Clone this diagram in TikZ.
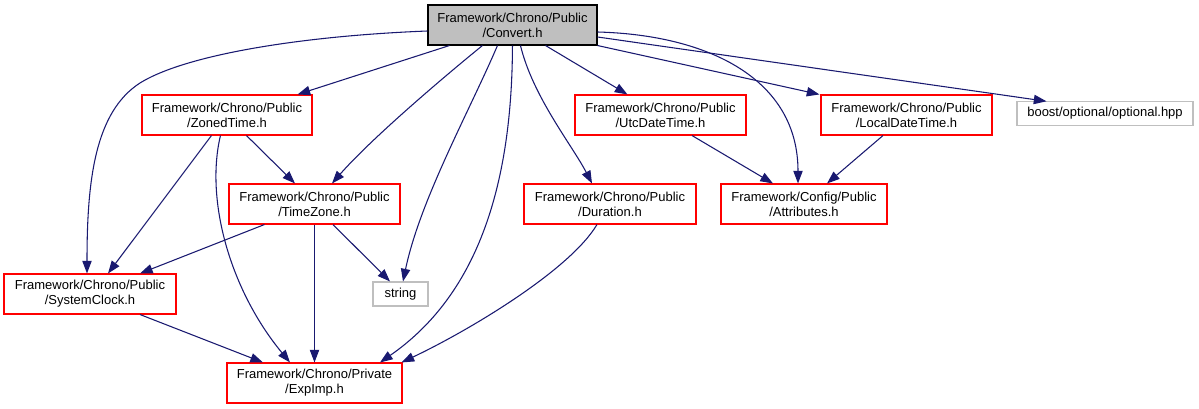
\documentclass[tikz,border=0pt]{standalone}
\usepackage{fontspec}
\setmainfont{Liberation Sans}
\usetikzlibrary{arrows.meta,calc}
\definecolor{edgeblue}{HTML}{191970}
\definecolor{boxred}{HTML}{FF0000}
\definecolor{lgray}{HTML}{BFBFBF}
\tikzset{
  filebox/.style={draw=boxred, line width=0.8pt, fill=white, align=center, inner sep=0pt,
    font=\fontsize{9.75}{11.25}\selectfont, minimum height=30pt},
  extbox/.style={filebox, draw=lgray, minimum height=17.5pt},
  rootbox/.style={filebox, draw=black, fill=lgray},
  dep/.style={draw=edgeblue, line width=0.8pt, -{Triangle[length=9.5pt,width=7pt]}, fill=none},
}
\begin{document}
\begin{tikzpicture}[x=0.75pt,y=-0.75pt]
\useasboundingbox (0,0) rectangle (1199,409);
% nodes
\node[rootbox, minimum width=126.75pt] (conv) at (512.5,25) {Framework/Chrono/Public\\/Convert.h};
\node[filebox, minimum width=127.5pt] (zoned) at (227,115) {Framework/Chrono/Public\\/ZonedTime.h};
\node[filebox, minimum width=128.25pt] (tz) at (314.5,204) {Framework/Chrono/Public\\/TimeZone.h};
\node[filebox, minimum width=129pt] (sys) at (90,294) {Framework/Chrono/Public\\/SystemClock.h};
\node[extbox, minimum width=41.25pt, minimum height=18pt] (str) at (400.5,294) {string};
\node[filebox, minimum width=131.25pt] (exp) at (314.5,383) {Framework/Chrono/Private\\/ExpImp.h};
\node[filebox, minimum width=128.25pt] (utc) at (660.5,115) {Framework/Chrono/Public\\/UtcDateTime.h};
\node[filebox, minimum width=128.25pt] (loc) at (906.5,115) {Framework/Chrono/Public\\/LocalDateTime.h};
\node[filebox, minimum width=129pt] (dur) at (610,204) {Framework/Chrono/Public\\/Duration.h};
\node[filebox, minimum width=124.5pt] (attr) at (804,204) {Framework/Config/Public\\/Attributes.h};
\node[extbox, minimum width=132pt] (boost) at (1105,113.5) {boost/optional/optional.hpp};
% edges from Convert.h
\draw[dep] ($(conv.south west)+(22,0)$) -- ($(zoned.north east)+(-15,0)$);
\draw[dep] ($(conv.west)+(0,6)$) .. controls (300,36) and (185,55) .. (140,83)
   .. controls (95,112) and (87,180) .. ($(sys.north)+(-3,0)$);
\draw[dep] ($(conv.south west)+(55,0)$) .. controls (440,80) and (370,140) .. ($(tz.north)+(17.5,0)$);
\draw[dep] ($(conv.south west)+(70,0)$) .. controls (470,110) and (420,200) .. ($(str.north)+(2.5,0)$);
\draw[dep] ($(conv.south west)+(85,0)$) .. controls (512,200) and (470,300) .. ($(exp.north)+(65.5,0)$);
\draw[dep] ($(conv.south west)+(93,0)$) .. controls (533,97) and (572,145) .. ($(dur.north)+(-18,0)$);
\draw[dep] ($(conv.south east)+(-52,0)$) -- ($(utc.north west)+(53,0)$);
\draw[dep] (conv.south east) -- ($(loc.north west)+(-1,0)$);
\draw[dep] ($(conv.east)+(0,7)$) .. controls (710,35) and (798,80) .. ($(attr.north)+(-6,0)$);
\draw[dep] ($(conv.east)+(0,12)$) -- ($(boost.north west)+(30,0)$);
% edges from ZonedTime.h
\draw[dep] ($(zoned.south west)+(70,0)$) -- ($(sys.north)+(18,0)$);
\draw[dep] ($(zoned.south west)+(79,0)$) .. controls (205,200) and (230,290) .. ($(exp.north)+(-24.5,0)$);
\draw[dep] ($(zoned.south west)+(105,0)$) -- ($(tz.north)+(-19.5,0)$);
% edges from TimeZone.h
\draw[dep] ($(tz.south west)+(36,0)$) -- ($(sys.north)+(50,0)$);
\draw[dep] (tz.south) -- (exp.north);
\draw[dep] ($(tz.south)+(18.5,0)$) -- ($(str.north)+(-10.5,0)$);
% others
\draw[dep] ($(sys.south)+(50,0)$) -- ($(exp.north)+(-51.5,0)$);
\draw[dep] ($(dur.south)+(-13,0)$) .. controls (570,270) and (470,330) .. ($(exp.north east)+(-1,0)$);
\draw[dep] ($(utc.south)+(31.5,0)$) -- ($(attr.north)+(-31,0)$);
\draw[dep] ($(loc.south)+(-23.5,0)$) -- ($(attr.north)+(23,0)$);
\end{tikzpicture}
\end{document}
